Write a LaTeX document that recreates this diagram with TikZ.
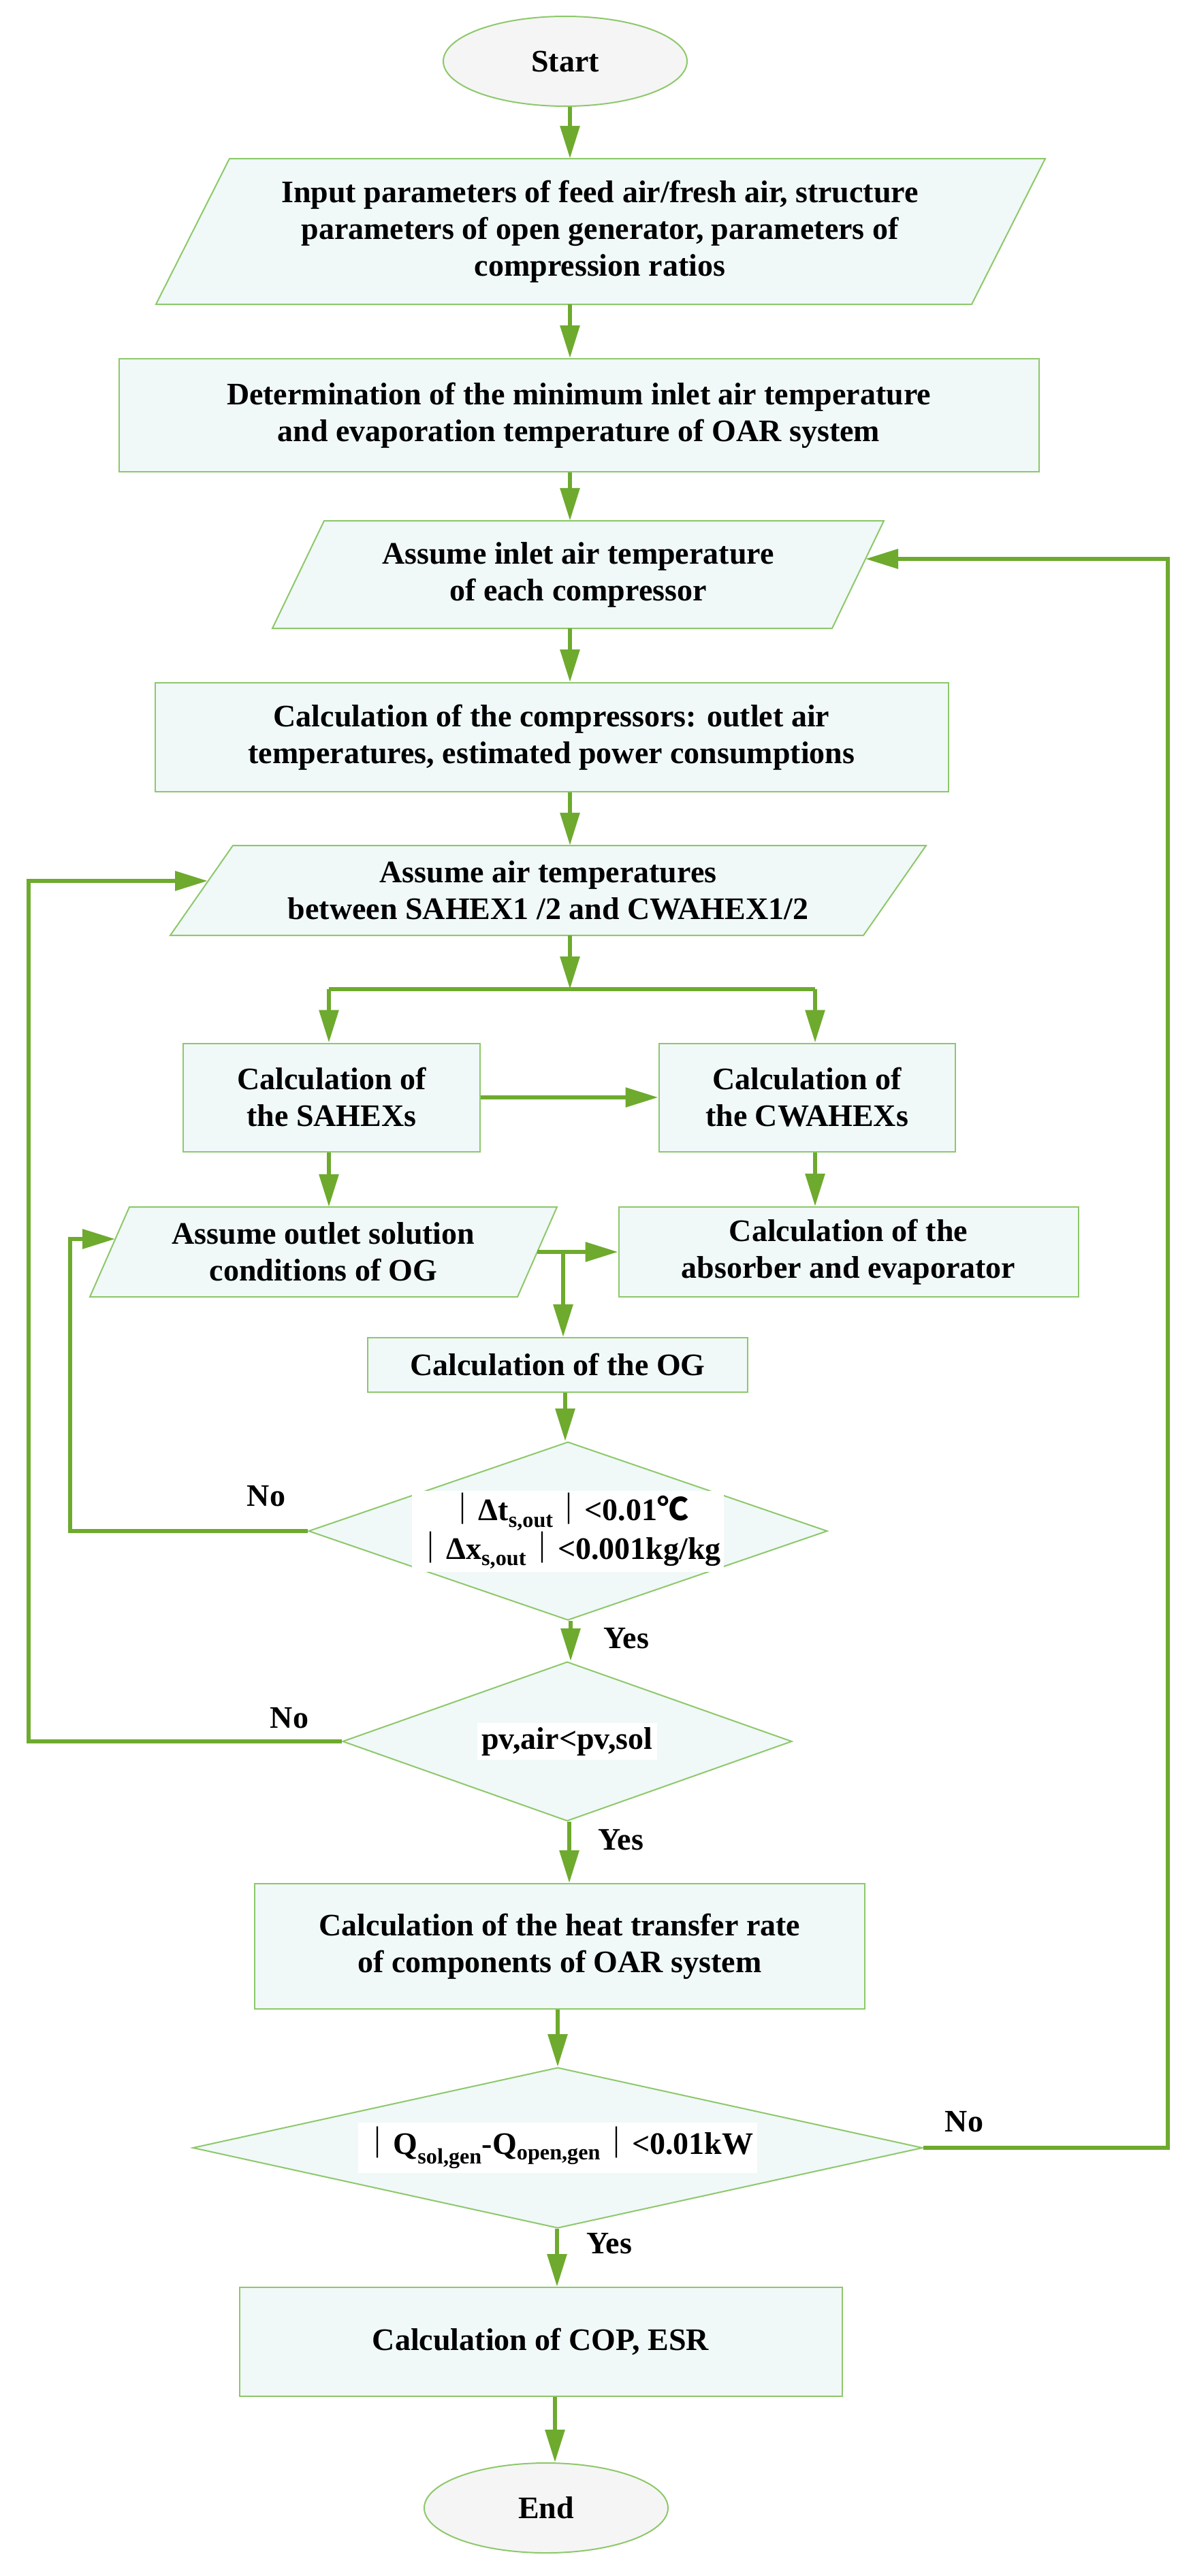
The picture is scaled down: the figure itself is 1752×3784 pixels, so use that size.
\documentclass[tikz,border=0pt]{standalone}
\usepackage{fontspec}
\setmainfont{Liberation Serif}
\newfontfamily\cjk{Noto Sans CJK SC}
\usetikzlibrary{shapes.geometric,arrows.meta,calc}
\definecolor{lg}{HTML}{6EAA2E}
\definecolor{bd}{HTML}{8DC86A}
\definecolor{fl}{HTML}{F0F8F8}
\definecolor{el}{HTML}{F5F5F5}
\begin{document}
\begin{tikzpicture}[x=1pt,y=-1pt,
  every node/.style={font=\fontsize{46}{54}\selectfont\bfseries, align=center, inner sep=0pt},
  box/.style={draw=bd, line width=2pt, fill=fl, rectangle},
  ell/.style={draw=bd, line width=2pt, fill=el, ellipse, minimum width=358pt, minimum height=132pt},
  dia/.style={draw=bd, line width=2pt, fill=fl, diamond},
  parafill/.style={draw=bd, line width=2pt, fill=fl},
  arr/.style={draw=lg, line width=6pt, -{Triangle[length=48pt,width=28pt]}},
  ln/.style={draw=lg, line width=6pt},
  lbl/.style={font=\fontsize{46}{54}\selectfont\bfseries}]
\useasboundingbox (0,0) rectangle (1752,3784);
\newcommand\mypara[6]{% name cx cy w h s
  \draw[parafill] (#2-#4+#6,#3-#5) -- (#2+#4+#6,#3-#5) -- (#2+#4-#6,#3+#5) -- (#2-#4-#6,#3+#5) -- cycle;
  \node[minimum width=2*#4 pt, minimum height=2*#5 pt] (#1) at (#2,#3) {};}

% shapes
\node[ell] (start) at (830,90) {Start};
\mypara{input}{882}{340}{599}{107}{54}
\node at (881,340) {Input parameters of feed air/fresh air, structure\\parameters of open generator, parameters of\\compression ratios};
\node[box, minimum width=1351pt, minimum height=166pt] (det) at (850,610) {Determination of the minimum inlet air temperature\\and evaporation temperature of OAR system};
\mypara{inlet}{849}{844}{411}{79}{38}
\node at (849,844) {Assume inlet air temperature\\of each compressor};
\node[box, minimum width=1165pt, minimum height=160pt] (comp) at (810,1083) {Calculation of the compressors: outlet air\\temperatures, estimated power consumptions};
\mypara{air}{805}{1308}{509}{66}{46}
\node at (805,1308) {Assume air temperatures\\between SAHEX1 /2 and CWAHEX1/2};
\node[box, minimum width=436pt, minimum height=159pt] (sa) at (487,1612) {Calculation of\\the SAHEXs};
\node[box, minimum width=435pt, minimum height=159pt] (cw) at (1185,1612) {Calculation of\\the CWAHEXs};
\mypara{outlet}{475}{1839}{314}{66}{29}
\node at (475,1839) {Assume outlet solution\\conditions of OG};
\node[box, minimum width=675pt, minimum height=132pt] (abs) at (1246,1839) {Calculation of the\\absorber and evaporator};
\node[box, minimum width=558pt, minimum height=80pt] (og) at (819,2005) {Calculation of the OG};
\node[dia, minimum width=762pt, minimum height=262pt] (d1) at (834,2249) {};
\node[fill=white, inner sep=4pt] at (834,2249) {{\cjk ｜}Δt\textsubscript{s,out}{\cjk ｜}<0.01{\cjk ℃}\\{\cjk ｜}Δx\textsubscript{s,out}{\cjk ｜}<0.001kg/kg};
\node[dia, minimum width=660pt, minimum height=234pt] (d2) at (833,2558) {};
\node[fill=white, inner sep=6pt] at (833,2558) {pv,air<pv,sol};
\node[box, minimum width=896pt, minimum height=184pt] (heat) at (822,2859) {Calculation of the heat transfer rate\\of components of OAR system};
\node[dia, minimum width=1072pt, minimum height=236pt] (d3) at (819,3155) {};
\node[fill=white, inner sep=6pt] at (819,3155) {{\cjk ｜}Q\textsubscript{sol,gen}-Q\textsubscript{open,gen}{\cjk ｜}<0.01kW};
\node[box, minimum width=885pt, minimum height=160pt] (cop) at (794,3440) {Calculation of COP, ESR};
\node[ell] (end) at (802,3684) {End};

% labels
\node[lbl] at (391,2198) {No};
\node[lbl] at (920,2407) {Yes};
\node[lbl] at (425,2524) {No};
\node[lbl] at (912,2703) {Yes};
\node[lbl] at (1416,3117) {No};
\node[lbl] at (895,3296) {Yes};

% helper coordinates
\coordinate (X837) at (837,0);
\coordinate (Xa) at (830,0);
\coordinate (Xb) at (838,0);
\coordinate (Xc) at (836,0);
\coordinate (Xd) at (819,0);
\coordinate (Xe) at (818,0);
\coordinate (Xf) at (815,0);
\coordinate (XL) at (483,0);
\coordinate (XR) at (1197,0);
\coordinate (Xbr) at (827,0);
\coordinate (split) at (837,1453);
\coordinate (L1) at (103,0);
\coordinate (L2) at (42,0);
\coordinate (R1) at (1715,0);
\coordinate (outin) at (169,1820);
\coordinate (airin) at (305,1294);
\coordinate (inletin) at (1271,821);
\coordinate (outr) at (789,1839);

% connectors
\draw[arr] (start.south -| X837) -- (input.north -| X837);
\draw[arr] (input.south -| X837) -- (det.north -| X837);
\draw[arr] (det.south -| X837) -- (inlet.north -| X837);
\draw[arr] (inlet.south -| X837) -- (comp.north -| X837);
\draw[arr] (comp.south -| X837) -- (air.north -| X837);
\draw[arr] (air.south -| X837) -- (split);
\draw[ln] (split -| XL) -- (split -| XR);
\draw[arr] (split -| XL) -- (sa.north -| XL);
\draw[arr] (split -| XR) -- (cw.north -| XR);
\draw[arr] (sa.east) -- (cw.west);
\draw[arr] (sa.south -| XL) -- (outlet.north -| XL);
\draw[arr] (cw.south -| XR) -- (abs.north -| XR);
\draw[arr] (outr) -- (abs.west);
\draw[arr] (outr -| Xbr) -- (og.north -| Xbr);
\draw[arr] (og.south -| Xa) -- (d1.north -| Xa);
\draw[arr] (d1.south -| Xb) -- (d2.north -| Xb);
\draw[arr] (d2.south -| Xc) -- (heat.north -| Xc);
\draw[arr] (heat.south -| Xd) -- (d3.north -| Xd);
\draw[arr] (d3.south -| Xe) -- (cop.north -| Xe);
\draw[arr] (cop.south -| Xf) -- (end.north -| Xf);
\draw[arr] (d1.west) -- (d1.west -| L1) -- (L1 |- outin) -- (outin);
\draw[arr] (d2.west) -- (d2.west -| L2) -- (L2 |- airin) -- (airin);
\draw[arr] (d3.east) -- (d3.east -| R1) -- (R1 |- inletin) -- (inletin);
\end{tikzpicture}
\end{document}
